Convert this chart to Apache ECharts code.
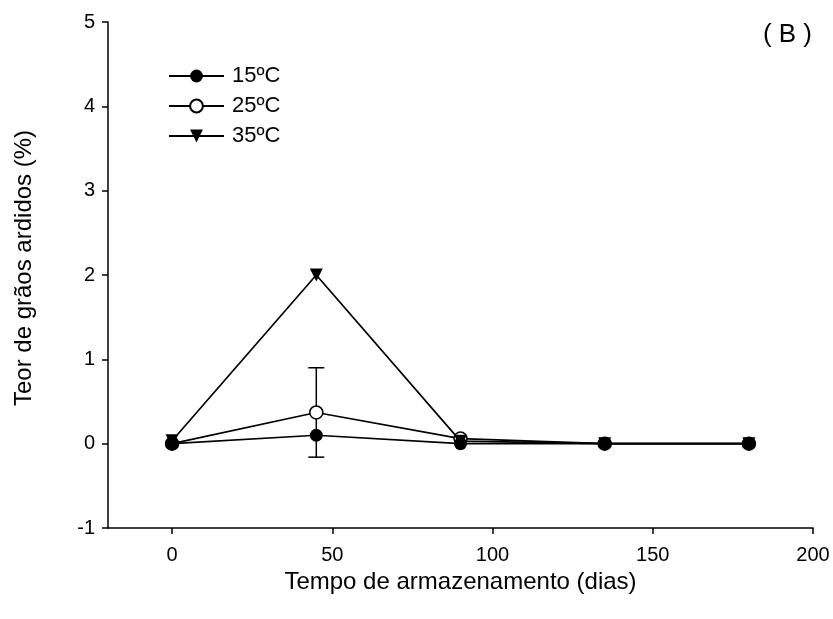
<!DOCTYPE html>
<html>
<head>
<meta charset="utf-8">
<script src="https://cdn.jsdelivr.net/npm/echarts@6/dist/echarts.min.js"></script>
<style>
  html, body { margin: 0; padding: 0; background: #fff; }
  #chart { width: 833px; height: 619px; }
</style>
</head>
<body>
<div id="chart"></div>
<script>
// dados (B)
var dias = [0, 45, 90, 135, 180];
var t15 = [0, 0.10, 0, 0, 0];
var t25 = [0, 0.37, 0.06, 0, 0];
var t35 = [0.035, 2.0, 0.03, 0, 0];
// barra de erro (25ºC aos 45 dias)
var erroDia = [45];
var erroMed = [0.37];
var erroDesv = [0.53];
var xTicks = [0, 50, 100, 150, 200];

var fonte = 'Liberation Sans, Arial, sans-serif';

function pares(xs, ys) {
    return xs.map(function (x, i) { return [x, ys[i]]; });
}

var chart = echarts.init(document.getElementById('chart'));

var option = {
    animation: false,
    textStyle: { fontFamily: fonte, color: '#000' },
    grid: { left: 108, right: 20, top: 22, bottom: 91 },
    title: {
        text: '( B )',
        right: 16,
        top: 17,
        textStyle: { fontFamily: fonte, fontSize: 26, fontWeight: 'normal', color: '#000' }
    },
    legend: {
        orient: 'vertical',
        left: 163,
        top: 60,
        itemWidth: 55,
        itemHeight: 16,
        itemGap: 8,
        textStyle: { fontFamily: fonte, fontSize: 22, color: '#000', padding: [0, 0, 0, 3] },
        data: ['15ºC', '25ºC', '35ºC']
    },
    xAxis: {
        type: 'value',
        min: -20,
        max: 200,
        name: 'Tempo de armazenamento (dias)',
        nameLocation: 'middle',
        nameGap: 41,
        nameTextStyle: { fontFamily: fonte, fontSize: 24, color: '#000' },
        splitLine: { show: false },
        axisLine: { onZero: false, lineStyle: { color: '#000', width: 1.5 } },
        axisTick: { show: true, length: 6, customValues: xTicks, lineStyle: { color: '#000', width: 1.5 } },
        axisLabel: { customValues: xTicks, margin: 17, fontSize: 20, color: '#000', fontFamily: fonte }
    },
    yAxis: {
        type: 'value',
        min: -1,
        max: 5,
        interval: 1,
        name: 'Teor de grãos ardidos (%)',
        nameLocation: 'middle',
        nameGap: 72,
        nameTextStyle: { fontFamily: fonte, fontSize: 24, color: '#000', padding: [0, 0, 0, 14] },
        splitLine: { show: false },
        axisLine: { show: true, onZero: false, lineStyle: { color: '#000', width: 1.5 } },
        axisTick: { show: true, length: 6, lineStyle: { color: '#000', width: 1.5 } },
        axisLabel: { margin: 13, fontSize: 20, color: '#000', fontFamily: fonte }
    },
    series: [
        {
            name: '25ºC',
            type: 'line',
            z: 2,
            data: pares(dias, t25),
            symbol: 'circle',
            symbolSize: 13,
            lineStyle: { color: '#000', width: 1.7 },
            itemStyle: { color: '#fff', borderColor: '#000', borderWidth: 1.5 }
        },
        {
            name: '35ºC',
            type: 'line',
            z: 3,
            data: pares(dias, t35),
            symbol: 'triangle',
            symbolRotate: 180,
            symbolSize: 13,
            lineStyle: { color: '#000', width: 1.7 },
            itemStyle: { color: '#000' }
        },
        {
            name: '15ºC',
            type: 'line',
            z: 4,
            data: pares(dias, t15),
            symbol: 'circle',
            symbolSize: 13,
            lineStyle: { color: '#000', width: 1.7 },
            itemStyle: { color: '#000' }
        },
        {
            type: 'custom',
            z: 1,
            data: erroDia.map(function (d, i) {
                return [d, erroMed[i] - erroDesv[i], erroMed[i] + erroDesv[i]];
            }),
            renderItem: function (params, api) {
                var baixo = api.coord([api.value(0), api.value(1)]);
                var alto = api.coord([api.value(0), api.value(2)]);
                var w = 8;
                var estilo = { stroke: '#000', lineWidth: 1.5 };
                return {
                    type: 'group',
                    children: [
                        { type: 'line', shape: { x1: baixo[0], y1: baixo[1], x2: alto[0], y2: alto[1] }, style: estilo },
                        { type: 'line', shape: { x1: alto[0] - w, y1: alto[1], x2: alto[0] + w, y2: alto[1] }, style: estilo },
                        { type: 'line', shape: { x1: baixo[0] - w, y1: baixo[1], x2: baixo[0] + w, y2: baixo[1] }, style: estilo }
                    ]
                };
            }
        }
    ]
};

chart.setOption(option);
</script>
</body>
</html>
